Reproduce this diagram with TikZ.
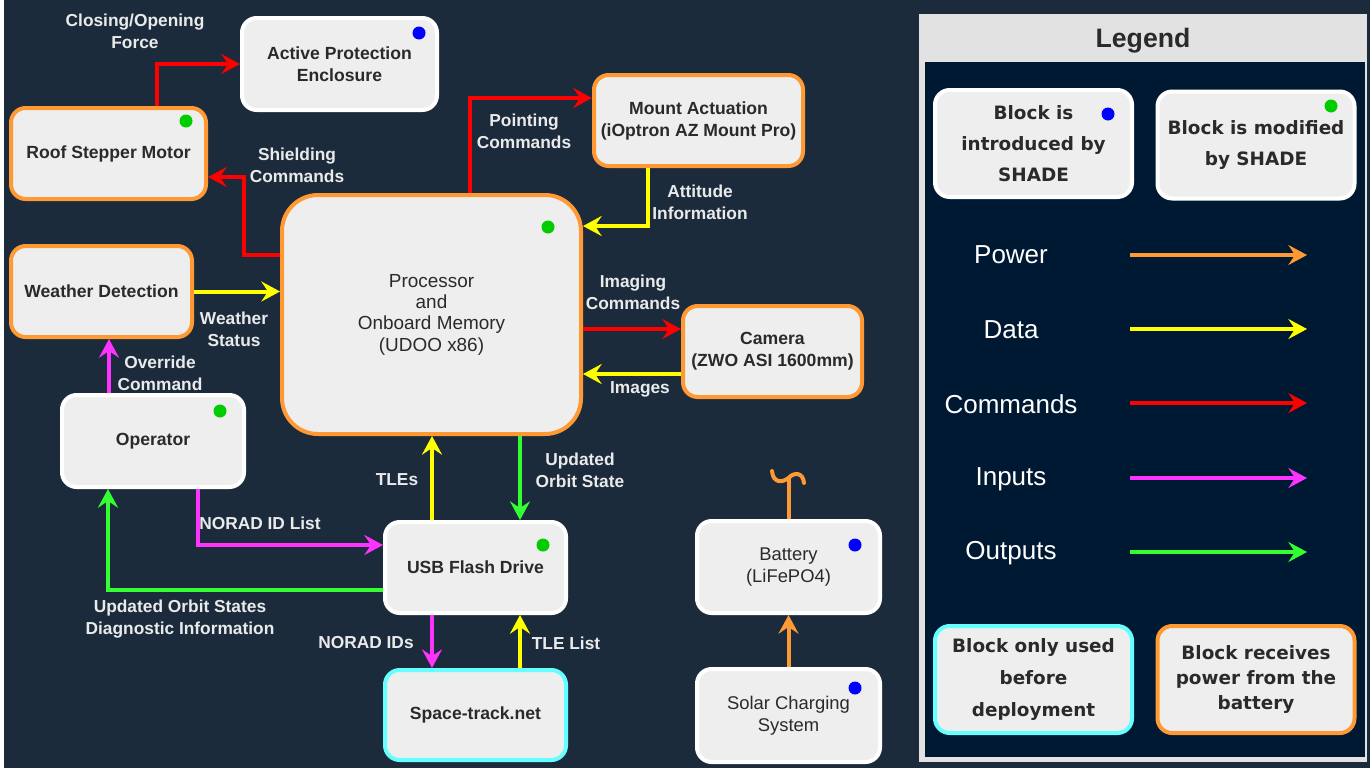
\documentclass[tikz,border=0pt]{standalone}
\usepackage{fontspec}
\setmainfont{Liberation Sans}
\newfontfamily\dvsfont{DejaVu Sans}
\usetikzlibrary{arrows.meta,calc}
\definecolor{bgc}{HTML}{1B2B3C}
\definecolor{nodefill}{HTML}{EEEEEE}
\definecolor{nodetext}{HTML}{2A2A2A}
\definecolor{labelc}{HTML}{EAEAEA}
\definecolor{orangec}{HTML}{FF9933}
\definecolor{cyanc}{HTML}{66FFFF}
\definecolor{redc}{HTML}{FF0000}
\definecolor{yellowc}{HTML}{FFFF00}
\definecolor{magc}{HTML}{FF33FF}
\definecolor{greenc}{HTML}{33FF33}
\definecolor{bluedot}{HTML}{0000FF}
\definecolor{greendot}{HTML}{00CC00}
\definecolor{leggray}{HTML}{E2E2E2}
\definecolor{legdark}{HTML}{001932}
\begin{document}
\begin{tikzpicture}[x=0.75pt,y=-0.75pt,
  blk/.style={draw=white, line width=3pt, fill=nodefill, rounded corners=11pt, inner sep=0pt,
    align=center, text=nodetext, font=\bfseries\fontsize{13.2}{16.5}\selectfont},
  pwblk/.style={blk, draw=orangec},
  preblk/.style={blk, draw=cyanc},
  lgblk/.style={blk, font=\dvsfont\bfseries\fontsize{13.8}{23}\selectfont, minimum width=147.75pt, minimum height=80.25pt},
  lbl/.style={text=labelc, font=\bfseries\fontsize{13}{16.5}\selectfont, align=center, inner sep=0pt},
  leglbl/.style={text=white, font=\fontsize{19.5}{22}\selectfont, inner sep=0pt},
  arr/.style={line width=3pt, -{Stealth[length=14pt,width=15pt,inset=5pt]}},
  cmd/.style={arr, draw=redc, color=redc},
  dat/.style={arr, draw=yellowc, color=yellowc},
  inp/.style={arr, draw=magc, color=magc},
  outp/.style={arr, draw=greenc, color=greenc},
  pwr/.style={arr, draw=orangec, color=orangec},
  bdot/.style={fill=bluedot},
  gdot/.style={fill=greendot}
]
\useasboundingbox (0,0) rectangle (1370,768);
\fill[white] (0,0) rectangle (1370,768);
\fill[bgc] (4,0) rectangle (1370,768);

% ---------- blocks ----------
\node[blk, minimum width=146.25pt, minimum height=69pt] (ape) at (339.5,64) {Active Protection\\Enclosure};
\node[pwblk, minimum width=146.25pt, minimum height=68.25pt] (roof) at (108.5,153.5) {Roof Stepper Motor};
\node[pwblk, minimum width=156.75pt, minimum height=68.25pt] (mount) at (698.5,120.5) {Mount Actuation\\(iOptron AZ Mount Pro)};
\node[pwblk, rounded corners=27pt, minimum width=224.25pt, minimum height=179.25pt,
      font=\fontsize{14.2}{16}\selectfont] (proc) at (431.5,314.5) {Processor\\and\\Onboard Memory\\(UDOO x86)};
\node[pwblk, minimum width=135.75pt, minimum height=68.25pt] (weather) at (101.5,291.5) {Weather Detection};
\node[pwblk, minimum width=134.25pt, minimum height=68.25pt] (cam) at (772.5,351.5) {Camera\\(ZWO ASI 1600mm)};
\node[blk, minimum width=136.5pt, minimum height=69pt] (op) at (153,441) {Operator};
\node[blk, minimum width=135.75pt, minimum height=68.25pt] (usb) at (475.5,567.5) {USB Flash Drive};
\node[preblk, minimum width=135.75pt, minimum height=67.5pt] (space) at (475.5,715) {Space-track.net};
\node[blk, minimum width=137.25pt, minimum height=69pt, font=\fontsize{13.8}{16.5}\selectfont] (bat) at (788.5,567) {Battery\\(LiFePO4)};
\node[blk, minimum width=137.25pt, minimum height=69.75pt, font=\fontsize{13.8}{16.5}\selectfont] (solar) at (788.5,715.5) {Solar Charging\\System};

% dots
\fill[bdot] (419,33) circle[radius=6.5];
\fill[gdot] (186,121) circle[radius=6.5];
\fill[gdot] (548,227) circle[radius=6.5];
\fill[gdot] (220,411) circle[radius=6.5];
\fill[gdot] (543,545) circle[radius=6.5];
\fill[bdot] (855,545) circle[radius=6.5];
\fill[bdot] (855,688) circle[radius=6.5];

% ---------- connectors ----------
\draw[cmd] (157,0 |- roof.north) |- (ape.west);
\draw[cmd] (proc.west |- 0,255) -| (244,200) |- (roof.east |- 0,177);
\draw[cmd] (470,0 |- proc.north) |- (mount.west |- 0,98);
\draw[dat] (648,0 |- mount.south) |- (proc.east |- 0,226);
\draw[dat] (weather.east) -- (proc.west |- weather.east);
\draw[cmd] (proc.east |- 0,329) -- (cam.west |- 0,329);
\draw[dat] (cam.west |- 0,374) -- (proc.east |- 0,374);
\draw[inp] (109,0 |- op.north) -- (109,0 |- weather.south);
\draw[inp] (198,0 |- op.south) |- (usb.west |- 0,545);
\draw[outp] (usb.west |- 0,590) -| (108,0 |- op.south);
\draw[dat] (432,0 |- usb.north) -- (432,0 |- proc.south);
\draw[outp] (520,0 |- proc.south) -- (520,0 |- usb.north);
\draw[inp] (432,0 |- usb.south) -- (432,0 |- space.north);
\draw[dat] (520,0 |- space.north) -- (520,0 |- usb.south);
\draw[pwr] (solar.north) -- (bat.south);
\coordinate (battop) at (788.5,478);
\draw[orangec, line width=3pt] (bat.north) -- (battop);
\draw[orangec, line width=3pt, line cap=round] (772,471) .. controls (773,483) and (782,483) .. (battop)
   .. controls (794,472) and (803,472) .. (804,483);

% ---------- labels ----------
\node[lbl] (l1) at (135,31) {Closing/Opening\\Force};
\node[lbl] (l2) at (297,165) {Shielding\\Commands};
\node[lbl] (l3) at (524,131) {Pointing\\Commands};
\node[lbl] (l4) at (700,202) {Attitude\\Information};
\node[lbl] (l5) at (234,329) {Weather\\Status};
\node[lbl] (l6) at (633,292) {Imaging\\Commands};
\node[lbl] (l7) at (640,389) {Images};
\node[lbl] (l8) at (160,373) {Override\\Command};
\node[lbl] (l9) at (260,523) {NORAD ID List};
\node[lbl] (l10) at (180,619) {Updated Orbit States\\Diagnostic Information};
\node[lbl] (l11) at (397,480) {TLEs};
\node[lbl] (l12) at (580,470) {Updated\\Orbit State};
\node[lbl] (l13) at (366,643) {NORAD IDs};
\node[lbl] (l14) at (566,643) {TLE List};

% ---------- legend ----------
\fill[leggray] (919,14) rectangle (1367,762);
\fill[legdark] (925,62) rectangle (1365,757);
\node[text=nodetext, font=\bfseries\fontsize{20}{22}\selectfont] (legtitle) at (1143,41) {Legend};
\node[lgblk] (lb1) at (1033.5,143.5) {Block is\\introduced by\\SHADE};
\node[lgblk] (lb2) at (1256,145) {Block is modified\\by SHADE};
\node[lgblk, draw=cyanc, font=\dvsfont\bfseries\fontsize{13.8}{24}\selectfont] (lb3) at (1033.5,679.5) {Block only used\\before\\deployment};
\node[lgblk, draw=orangec, font=\dvsfont\bfseries\fontsize{13.8}{18.75}\selectfont] (lb4) at (1256,679.5) {Block receives\\power from the\\battery};
\fill[bdot] (1108,114) circle[radius=6.5];
\fill[gdot] (1331,106) circle[radius=6.5];

\node[leglbl] (lp) at (1011,255) {Power};
\node[leglbl] (ld) at (1011,330) {Data};
\node[leglbl] (lc) at (1011,404) {Commands};
\node[leglbl] (li) at (1011,479) {Inputs};
\node[leglbl] (lo) at (1011,553) {Outputs};
\foreach \n/\yy in {a/255,b/329,c/403,d/478,e/552}{
  \coordinate (ls\n) at (1130,\yy);
  \coordinate (le\n) at (1307,\yy);
}
\draw[pwr] (lsa) -- (lea);
\draw[dat] (lsb) -- (leb);
\draw[cmd] (lsc) -- (lec);
\draw[inp] (lsd) -- (led);
\draw[outp] (lse) -- (lee);
\end{tikzpicture}
\end{document}
